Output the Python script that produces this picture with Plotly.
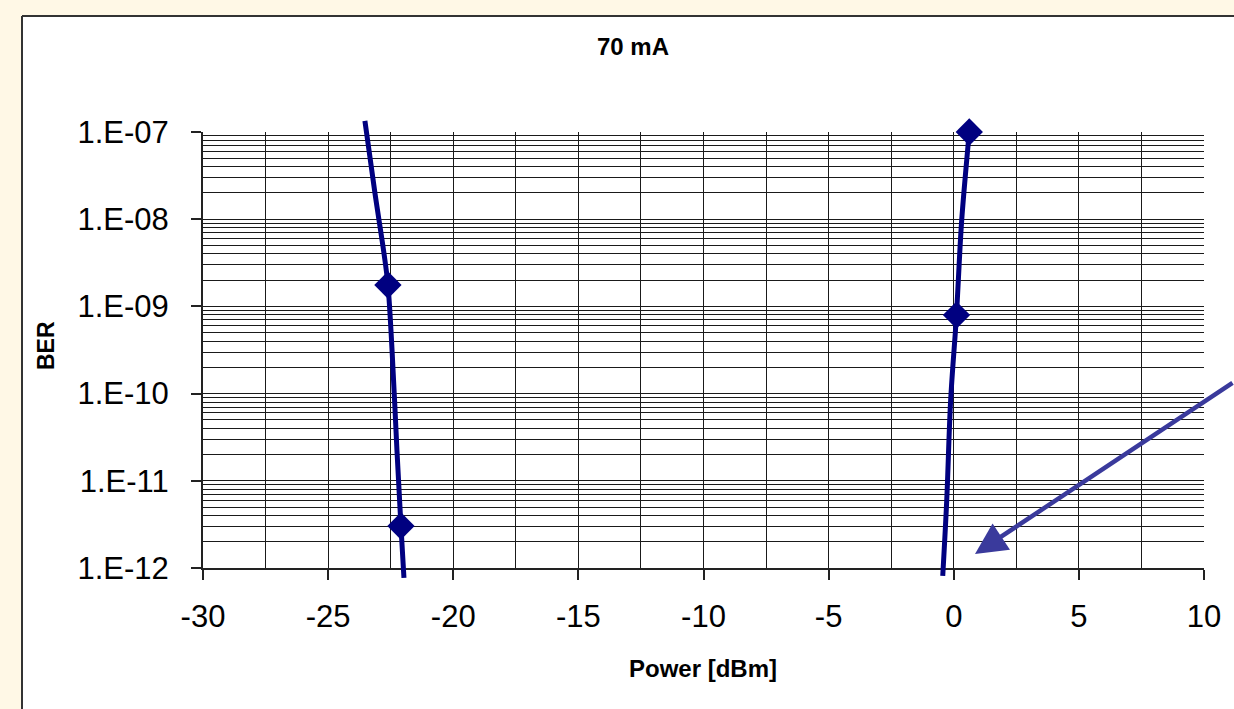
import plotly.graph_objects as go
import numpy as np

# ---- data ----
left_curve_x = [-23.53, -23.13, -22.77, -22.61, -22.45, -22.25, -22.09, -21.97]
left_curve_ber = [1.34e-7, 2.0e-8, 4.1e-9, 1.76e-9, 3.33e-10, 2.25e-11, 3.03e-12, 7.7e-13]
left_marker_x = [-22.61, -22.09]
left_marker_ber = [1.76e-9, 3.03e-12]

right_curve_x = [0.62, 0.318, 0.21, 0.11, -0.123, -0.28, -0.44]
right_curve_ber = [1.0e-7, 9.8e-9, 2.83e-9, 7.96e-10, 8.45e-11, 6.0e-12, 8.1e-13]
right_marker_x = [0.62, 0.11]
right_marker_ber = [1.0e-7, 7.96e-10]

x_ticks = [-30, -25, -20, -15, -10, -5, 0, 5, 10]
y_tickvals = [1e-12, 1e-11, 1e-10, 1e-9, 1e-8, 1e-7]
y_ticktext = ["1.E-12", "1.E-11", "1.E-10", "1.E-09", "1.E-08", "1.E-07"]

title_text = "70 mA"
x_title = "Power [dBm]"
y_title = "BER"

# ---- geometry ----
W, H = 1234, 709
pl, pr = 203, 1204          # plot area x pixels
pt, pb = 132, 568           # plot area y pixels (1e-7 .. 1e-12)
ext_t, ext_b = 110, 585     # extended clip area for curves
ymin, ymax = -12, -7
ppd = (pb - pt) / (ymax - ymin)
paper_h = ext_b - ext_t
d0 = (ext_b - pb) / paper_h
d1 = (ext_b - pt) / paper_h
y2_lo = ymin - (ext_b - pb) / ppd
y2_hi = ymax + (pt - ext_t) / ppd

navy = "#000080"
cream = "#FFF8E6"
font = "Liberation Sans, Arial, sans-serif"

fig = go.Figure()
line_style = dict(color=navy, width=5)
marker_style = dict(symbol="diamond", size=21, color=navy)

fig.add_trace(go.Scatter(x=left_curve_x, y=left_curve_ber, mode="lines", line=line_style,
                         line_shape="spline", xaxis="x2", yaxis="y2", showlegend=False, hoverinfo="skip"))
fig.add_trace(go.Scatter(x=right_curve_x, y=right_curve_ber, mode="lines", line=line_style,
                         line_shape="spline", xaxis="x2", yaxis="y2", showlegend=False, hoverinfo="skip"))
fig.add_trace(go.Scatter(x=left_marker_x, y=left_marker_ber, mode="markers", marker=marker_style,
                         xaxis="x2", yaxis="y2", showlegend=False))
fig.add_trace(go.Scatter(x=right_marker_x, y=right_marker_ber, mode="markers", marker=marker_style,
                         xaxis="x2", yaxis="y2", showlegend=False))

grid_col = "#1a1a1a"
fig.update_layout(
    width=W, height=H,
    margin=dict(l=pl, r=W - pr, t=ext_t, b=H - ext_b, pad=0),
    paper_bgcolor="white",
    plot_bgcolor="rgba(0,0,0,0)",
    font=dict(family=font, color="black"),
    xaxis=dict(domain=[0, 1], range=[-30, 10], anchor="y",
               tickmode="array", tickvals=x_ticks, ticktext=[str(v) for v in x_ticks],
               ticks="outside", ticklen=10, tickcolor="#222", tickwidth=1.5,
               ticklabelstandoff=10,
               showgrid=True, gridcolor=grid_col, gridwidth=1,
               minor=dict(dtick=2.5, showgrid=True, gridcolor=grid_col, gridwidth=1, ticks=""),
               showline=True, linecolor="#222", linewidth=2,
               tickfont=dict(size=31, family=font), zeroline=False),
    yaxis=dict(domain=[d0, d1], type="log", range=[ymin, ymax], anchor="x",
               tickmode="array", tickvals=y_tickvals, ticktext=y_ticktext,
               ticks="outside", ticklen=10, tickcolor="#222", tickwidth=1.5,
               ticklabelstandoff=16,
               showgrid=True, gridcolor=grid_col, gridwidth=1,
               minor=dict(dtick="D1", showgrid=True, gridcolor=grid_col, gridwidth=1, ticks=""),
               showline=True, linecolor="#222", linewidth=2,
               tickfont=dict(size=31, family=font), zeroline=False),
    xaxis2=dict(domain=[0, 1], range=[-30, 10], anchor="y2", visible=False),
    yaxis2=dict(domain=[0, 1], type="log", range=[y2_lo, y2_hi], anchor="x2", visible=False),
)

# cream surround (left and top strips) with dark chart-area border
px2fx = lambda px: (px - pl) / (pr - pl)
py2fy = lambda py: (ext_b - py) / paper_h
fig.add_shape(type="rect", xref="paper", yref="paper",
              x0=px2fx(0), x1=px2fx(22), y0=py2fy(H), y1=py2fy(0),
              fillcolor=cream, line=dict(width=0), layer="below")
fig.add_shape(type="rect", xref="paper", yref="paper",
              x0=px2fx(0), x1=px2fx(W), y0=py2fy(16), y1=py2fy(0),
              fillcolor=cream, line=dict(width=0), layer="below")
fig.add_shape(type="line", xref="paper", yref="paper",
              x0=px2fx(22), x1=px2fx(22), y0=py2fy(H), y1=py2fy(16),
              line=dict(color="#333", width=2), layer="below")
fig.add_shape(type="line", xref="paper", yref="paper",
              x0=px2fx(22), x1=px2fx(W), y0=py2fy(16), y1=py2fy(16),
              line=dict(color="#333", width=2), layer="below")
# gray plot frame (top/right)
fig.add_shape(type="rect", xref="x", yref="y", x0=-30, x1=10, y0=ymin, y1=ymax,
              line=dict(color="#909090", width=2), fillcolor="rgba(0,0,0,0)", layer="between")

# titles
fig.add_annotation(text=f"<b>{title_text}</b>", xref="paper", yref="paper", x=px2fx(633), y=py2fy(47),
                   showarrow=False, font=dict(size=24, family=font, color="black"),
                   xanchor="center", yanchor="middle")
fig.add_annotation(text=f"<b>{x_title}</b>", xref="paper", yref="paper", x=px2fx(703), y=py2fy(668),
                   showarrow=False, font=dict(size=24, family=font), xanchor="center", yanchor="middle")
fig.add_annotation(text=f"<b>{y_title}</b>", xref="paper", yref="paper", x=px2fx(46), y=py2fy(346),
                   showarrow=False, textangle=-90, font=dict(size=23, family=font),
                   xanchor="center", yanchor="middle")

# arrow
fig.add_annotation(text="", x=0.85, y=-12 + (pb - 554) / ppd, xref="x", yref="y",
                   showarrow=True, ax=275, ay=-172, axref="pixel", ayref="pixel",
                   arrowcolor="#3A3A9C", arrowwidth=4.5, arrowhead=2, arrowsize=1.4, standoff=0)

post = ("document.body.style.margin='0';document.body.style.padding='0';"
        "document.body.style.background='white';"
        "document.documentElement.style.overflow='hidden';")
fig.write_html("out.html", post_script=post, config={"displayModeBar": False})
